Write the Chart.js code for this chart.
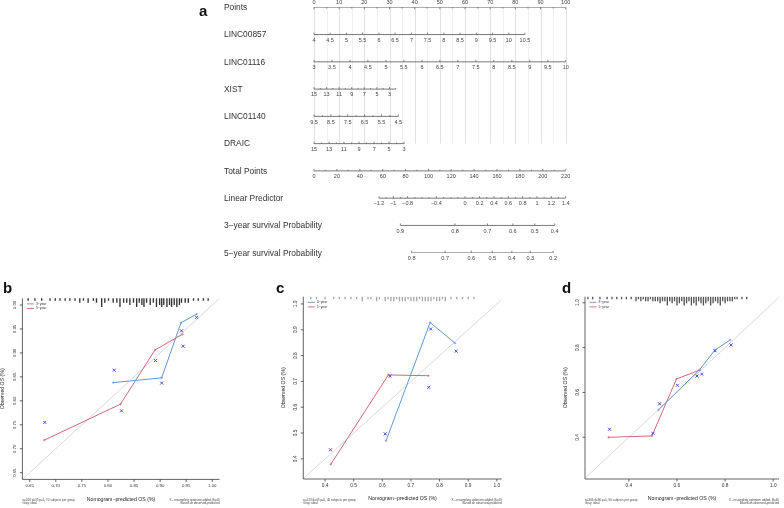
<!DOCTYPE html>
<html>
<head>
<meta charset="utf-8">
<script src="https://cdn.jsdelivr.net/npm/chart.js@4.4.1/dist/chart.umd.min.js"></script>
<style>
  html, body { margin: 0; padding: 0; background: #fff; }
  #page { position: relative; width: 784px; height: 508px; overflow: hidden; background: #fff; }
  #page canvas { position: absolute; }
</style>
</head>
<body>
<div id="page">
  <canvas id="nomo" width="784" height="272" style="left:0;top:0"></canvas>
  <canvas id="calB" width="262" height="228" style="left:0;top:280px"></canvas>
  <canvas id="calC" width="262" height="228" style="left:262px;top:280px"></canvas>
  <canvas id="calD" width="260" height="228" style="left:524px;top:280px"></canvas>
</div>
<script>
// ---- Nomogram: tick labels and where they sit on the 0-100 points scale
const rowNames = ['Points', 'LINC00857', 'LINC01116', 'XIST', 'LINC01140', 'DRAIC',
  'Total Points', 'Linear Predictor', '3−year survival Probability', '5−year survival Probability'];

const pointsLabels = ['0', '10', '20', '30', '40', '50', '60', '70', '80', '90', '100'];
const pointsPos = [0, 10, 20, 30, 40, 50, 60, 70, 80, 90, 100];
const pointsMinor = [5, 15, 25, 35, 45, 55, 65, 75, 85, 95];

const linc00857Labels = ['4', '4.5', '5', '5.5', '6', '6.5', '7', '7.5', '8', '8.5', '9', '9.5', '10', '10.5'];
const linc00857Pos = [0, 6.4, 12.9, 19.3, 25.8, 32.2, 38.7, 45.1, 51.6, 58.0, 64.5, 70.9, 77.4, 83.8];

const linc01116Labels = ['3', '3.5', '4', '4.5', '5', '5.5', '6', '6.5', '7', '7.5', '8', '8.5', '9', '9.5', '10'];
const linc01116Pos = [0, 7.1, 14.3, 21.4, 28.6, 35.7, 42.9, 50, 57.1, 64.3, 71.4, 78.6, 85.7, 92.9, 100];

const xistLabels = ['15', '13', '11', '9', '7', '5', '3'];
const xistPos = [0, 5, 10, 15, 20, 25, 30];
const xistMinor = [2.5, 7.5, 12.5, 17.5, 22.5, 27.5, 32.5];

const linc01140Labels = ['9.5', '8.5', '7.5', '6.5', '5.5', '4.5'];
const linc01140Pos = [0, 6.7, 13.4, 20.1, 26.8, 33.5];
const linc01140Minor = [3.35, 10.05, 16.75, 23.45, 30.15];

const draicLabels = ['15', '13', '11', '9', '7', '5', '3'];
const draicPos = [0, 6.0, 11.9, 17.9, 23.9, 29.8, 35.8];
const draicMinor = [3.0, 8.95, 14.9, 20.9, 26.85, 32.8];

const totalLabels = ['0', '20', '40', '60', '80', '100', '120', '140', '160', '180', '200', '220'];
const totalPos = [0, 9.1, 18.2, 27.3, 36.4, 45.5, 54.5, 63.6, 72.7, 81.8, 90.9, 100];
const totalMinor = [4.5, 13.6, 22.7, 31.8, 40.9, 50, 59.1, 68.2, 77.3, 86.4, 95.5];

const lpLabels = ['−1.2', '−1', '−0.8', '−0.4', '0', '0.2', '0.4', '0.6', '0.8', '1', '1.2', '1.4'];
const lpPos = [25.8, 31.5, 37.2, 48.6, 60.0, 65.8, 71.5, 77.2, 82.9, 88.6, 94.3, 100];
const lpMinor = [28.7, 34.3, 40.1, 42.9, 45.7, 51.5, 54.4, 57.1, 62.9, 68.6, 74.4, 80.0, 85.7, 91.4, 97.1];

const surv3Labels = ['0.9', '0.8', '0.7', '0.6', '0.5', '0.4'];
const surv3Pos = [34.3, 56.0, 68.9, 79.0, 87.7, 95.6];

const surv5Labels = ['0.8', '0.7', '0.6', '0.5', '0.4', '0.3', '0.2'];
const surv5Pos = [38.8, 52.1, 62.5, 70.8, 78.6, 85.9, 95.0];

// ---- Calibration b
const bPred3 = [0.810, 0.903, 0.940, 0.970];
const bObs3 = [0.838, 0.848, 0.963, 0.981];
const bPred5 = [0.678, 0.824, 0.890, 0.943];
const bObs5 = [0.718, 0.793, 0.906, 0.939];
const bCorrX = [0.812, 0.903, 0.941, 0.970, 0.679, 0.826, 0.891, 0.944];
const bCorrY = [0.864, 0.837, 0.946, 0.974, 0.755, 0.779, 0.884, 0.914];
const bTicks = [0.65, 0.70, 0.75, 0.80, 0.85, 0.90, 0.95, 1.00];
const bRugX = [0.647, 0.660, 0.673, 0.689, 0.699, 0.708, 0.718, 0.727, 0.737, 0.746, 0.753, 0.762,
  0.772, 0.778, 0.788, 0.794, 0.801, 0.810, 0.817, 0.823, 0.830, 0.836, 0.842, 0.849, 0.855, 0.860,
  0.865, 0.869, 0.874, 0.881, 0.887, 0.893, 0.899, 0.903, 0.907, 0.913, 0.918, 0.922, 0.927, 0.932,
  0.937, 0.941, 0.948, 0.954, 0.964, 0.973, 0.983, 0.992];
const bRugN = [1, 1, 1, 1, 1, 1, 1, 1, 1, 2, 1, 2, 1, 2, 4, 2, 1, 2, 2, 4, 2, 2, 3, 2, 4, 2,
  3, 4, 2, 3, 2, 4, 3, 4, 3, 4, 3, 4, 3, 4, 3, 2, 2, 2, 1, 1, 1, 1];

// ---- Calibration c
const cPred3 = [0.613, 0.767, 0.854];
const cObs3 = [0.470, 0.928, 0.848];
const cPred5 = [0.420, 0.621, 0.761];
const cObs5 = [0.379, 0.725, 0.722];
const cCorrX = [0.610, 0.769, 0.858, 0.419, 0.627, 0.762];
const cCorrY = [0.497, 0.903, 0.817, 0.435, 0.720, 0.677];
const cTicks = [0.4, 0.5, 0.6, 0.7, 0.8, 0.9, 1.0];
const cRugX = [0.35, 0.37, 0.40, 0.43, 0.45, 0.47, 0.49, 0.51, 0.53, 0.55, 0.56, 0.58, 0.59, 0.61,
  0.62, 0.63, 0.64, 0.65, 0.66, 0.67, 0.68, 0.69, 0.70, 0.71, 0.72, 0.73, 0.74, 0.75, 0.76, 0.77,
  0.78, 0.79, 0.80, 0.81, 0.82, 0.84, 0.86, 0.88, 0.90, 0.92];
const cRugN = [1, 1, 1, 1, 1, 1, 1, 1, 2, 1, 1, 2, 1, 2, 1, 2, 2, 1, 2, 2, 2, 1, 2, 2, 2, 1,
  2, 2, 2, 2, 1, 2, 2, 1, 2, 1, 1, 1, 1, 1];

// ---- Calibration d
const dPred3 = [0.523, 0.693, 0.758, 0.821];
const dObs3 = [0.522, 0.700, 0.789, 0.834];
const dPred5 = [0.316, 0.496, 0.598, 0.695];
const dObs5 = [0.400, 0.406, 0.660, 0.700];
const dCorrX = [0.528, 0.683, 0.758, 0.825, 0.320, 0.500, 0.602, 0.703];
const dCorrY = [0.549, 0.673, 0.786, 0.812, 0.436, 0.418, 0.632, 0.682];
const dTicks = [0.4, 0.6, 0.8, 1.0];
const dRugX = [0.23, 0.25, 0.28, 0.31, 0.33, 0.35, 0.37, 0.39, 0.41, 0.43, 0.44, 0.45, 0.46, 0.47,
  0.48, 0.49, 0.50, 0.51, 0.52, 0.53, 0.54, 0.55, 0.56, 0.57, 0.58, 0.59, 0.60, 0.61, 0.62, 0.63,
  0.64, 0.65, 0.66, 0.67, 0.68, 0.69, 0.70, 0.71, 0.72, 0.73, 0.74, 0.75, 0.76, 0.77, 0.78, 0.79,
  0.80, 0.81, 0.82, 0.83, 0.84, 0.85, 0.87, 0.89];
const dRugN = [1, 1, 1, 1, 1, 1, 1, 1, 1, 2, 1, 2, 1, 2, 2, 1, 2, 2, 2, 3, 2, 2, 4, 2, 3, 2,
  4, 3, 2, 4, 3, 2, 4, 3, 4, 2, 3, 4, 3, 2, 4, 3, 2, 3, 4, 2, 3, 2, 2, 2, 1, 1, 1, 1];

const FONT = "'Liberation Sans', Arial, Helvetica, sans-serif";
const BLUE = '#6198cf';
const RED = '#d2677a';
const XCOL = '#4747e3';

const rows = [
  { lab: pointsLabels, pos: pointsPos, minor: pointsMinor, above: true },
  { lab: linc00857Labels, pos: linc00857Pos, minor: [] },
  { lab: linc01116Labels, pos: linc01116Pos, minor: [] },
  { lab: xistLabels, pos: xistPos, minor: xistMinor },
  { lab: linc01140Labels, pos: linc01140Pos, minor: linc01140Minor },
  { lab: draicLabels, pos: draicPos, minor: draicMinor },
  { lab: totalLabels, pos: totalPos, minor: totalMinor },
  { lab: lpLabels, pos: lpPos, minor: lpMinor },
  { lab: surv3Labels, pos: surv3Pos, minor: [] },
  { lab: surv5Labels, pos: surv5Pos, minor: [] }
];

// Линии, подписи и сетка номограммы
const nomoPlugin = {
  id: 'nomoAxes',
  beforeDatasetsDraw(chart) {
    const ctx = chart.ctx, xs = chart.scales.x, ys = chart.scales.y;
    ctx.save();
    ctx.lineWidth = 0.7;
    for (let p = 0; p <= 100; p += 5) {
      const px = Math.round(xs.getPixelForValue(p)) + 0.5;
      ctx.strokeStyle = p % 10 === 0 ? '#d6d6d6' : '#e9e9e9';
      ctx.beginPath();
      ctx.moveTo(px, ys.getPixelForValue(0));
      ctx.lineTo(px, ys.getPixelForValue(5));
      ctx.stroke();
    }
    ctx.restore();
  },
  afterDatasetsDraw(chart) {
    const ctx = chart.ctx, xs = chart.scales.x, ys = chart.scales.y;
    ctx.save();
    ctx.strokeStyle = '#555';
    ctx.lineWidth = 0.7;
    ctx.textAlign = 'center';
    ctx.textBaseline = 'middle';
    rows.forEach((r, i) => {
      const py = ys.getPixelForValue(i);
      const dir = r.above ? 1 : -1;
      r.pos.forEach(p => {
        const px = xs.getPixelForValue(p);
        ctx.beginPath(); ctx.moveTo(px, py); ctx.lineTo(px, py + dir * 2); ctx.stroke();
      });
      r.minor.forEach(p => {
        const px = xs.getPixelForValue(p);
        ctx.beginPath(); ctx.moveTo(px, py); ctx.lineTo(px, py + dir * 1.2); ctx.stroke();
      });
      ctx.fillStyle = '#444';
      ctx.font = '5.5px ' + FONT;
      r.lab.forEach((t, k) => {
        ctx.fillText(t, xs.getPixelForValue(r.pos[k]), r.above ? py - 4.6 : py + 5.8);
      });
      ctx.fillStyle = '#333';
      ctx.font = '8.4px ' + FONT;
      ctx.textAlign = 'left';
      ctx.fillText(rowNames[i], 224, py + 0.5);
      ctx.textAlign = 'center';
    });
    ctx.fillStyle = '#111';
    ctx.font = 'bold 15px ' + FONT;
    ctx.textAlign = 'left';
    ctx.textBaseline = 'alphabetic';
    ctx.fillText('a', 199, 16);
    ctx.restore();
  }
};

new Chart(document.getElementById('nomo'), {
  type: 'scatter',
  data: {
    datasets: rows.map((r, i) => ({
      data: [{ x: Math.min(...r.pos, ...r.minor), y: i }, { x: Math.max(...r.pos, ...r.minor), y: i }],
      showLine: true,
      borderColor: '#555',
      borderWidth: 0.8,
      pointRadius: 0
    }))
  },
  options: {
    responsive: false,
    animation: false,
    events: [],
    layout: { padding: { left: 314, right: 218.3, top: 7.3, bottom: 19.3 } },
    plugins: { legend: { display: false }, tooltip: { enabled: false } },
    scales: {
      x: { type: 'linear', min: 0, max: 100, display: false },
      y: { type: 'linear', min: 0, max: 9, reverse: true, display: false }
    }
  },
  plugins: [nomoPlugin]
});

// Оси калибровочных графиков
const calibPlugin = {
  id: 'calibAxes',
  afterDraw(chart, args, o) {
    const ctx = chart.ctx, a = chart.chartArea, xs = chart.scales.x, ys = chart.scales.y;
    ctx.save();
    ctx.strokeStyle = '#3c3c3c';
    ctx.lineWidth = 0.8;
    ctx.beginPath();
    ctx.moveTo(a.left, a.top); ctx.lineTo(a.left, a.bottom); ctx.lineTo(a.right, a.bottom);
    ctx.stroke();
    ctx.fillStyle = '#333';
    ctx.font = o.tickFont + 'px ' + FONT;
    ctx.textAlign = 'center';
    ctx.textBaseline = 'middle';
    o.ticks.forEach(v => {
      const px = xs.getPixelForValue(v);
      ctx.beginPath(); ctx.moveTo(px, a.bottom); ctx.lineTo(px, a.bottom + 2.5); ctx.stroke();
      ctx.fillText(v.toFixed(o.digits), px, a.bottom + 6.5);
      const py = ys.getPixelForValue(v);
      ctx.beginPath(); ctx.moveTo(a.left, py); ctx.lineTo(a.left - 2.5, py); ctx.stroke();
      ctx.save();
      ctx.translate(a.left - 7.5, py);
      ctx.rotate(-Math.PI / 2);
      ctx.fillText(v.toFixed(o.digits), 0, 0);
      ctx.restore();
    });
    ctx.fillStyle = '#222';
    ctx.font = '5.2px ' + FONT;
    ctx.fillText('Nomogram−predicted OS (%)', (a.left + a.right) / 2, a.bottom + 19.8);
    ctx.save();
    ctx.translate(a.left - 19.8, (a.top + a.bottom) / 2);
    ctx.rotate(-Math.PI / 2);
    ctx.fillText('Observed OS (%)', 0, 0);
    ctx.restore();
    // notes
    ctx.font = '3px ' + FONT;
    ctx.fillStyle = '#444';
    ctx.textAlign = 'left';
    ctx.fillText(o.noteL, a.left, a.bottom + 20.8);
    ctx.fillText('Gray: ideal', a.left, a.bottom + 24.2);
    ctx.textAlign = 'right';
    ctx.fillText('X - resampling optimism added, B=40', a.right, a.bottom + 20.8);
    ctx.fillText('Based on observed-predicted', a.right, a.bottom + 24.2);
    // legend
    ctx.lineWidth = 0.9;
    [['3−year', BLUE, 5.6], ['5−year', RED, 10.2]].forEach(([t, c, dy]) => {
      ctx.strokeStyle = c;
      ctx.beginPath();
      ctx.moveTo(a.left + 4.5, a.top + dy); ctx.lineTo(a.left + 11.5, a.top + dy);
      ctx.stroke();
      ctx.fillStyle = '#333';
      ctx.font = '3.4px ' + FONT;
      ctx.textAlign = 'left';
      ctx.fillText(t, a.left + 13.5, a.top + dy);
    });
    // panel letter
    ctx.fillStyle = '#111';
    ctx.font = 'bold 15px ' + FONT;
    ctx.textBaseline = 'alphabetic';
    ctx.fillText(o.letter, o.letterX, 13);
    ctx.restore();
  }
};

function xy(xs, ys) {
  return xs.map((x, i) => ({ x: x, y: ys[i] }));
}

function makeCalib(id, cfg) {
  const unit = (cfg.yMax - cfg.yMin) * 0.0115;
  new Chart(document.getElementById(id), {
    type: 'scatter',
    data: {
      datasets: [
        {
          data: xy(cfg.corrX, cfg.corrY),
          pointStyle: 'crossRot', pointRadius: 2.1,
          borderColor: XCOL, borderWidth: 1, backgroundColor: XCOL
        },
        {
          data: xy(cfg.pred3, cfg.obs3), showLine: true,
          borderColor: BLUE, borderWidth: 1, pointStyle: 'cross',
          pointRadius: 1.2, pointBorderColor: BLUE, pointBorderWidth: 0.7
        },
        {
          data: xy(cfg.pred5, cfg.obs5), showLine: true,
          borderColor: RED, borderWidth: 1, pointStyle: 'cross',
          pointRadius: 1.2, pointBorderColor: RED, pointBorderWidth: 0.7
        },
        {
          data: [{ x: cfg.xMin, y: cfg.xMin }, { x: cfg.xMax, y: cfg.xMax }], showLine: true,
          borderColor: '#dadada', borderWidth: 1, pointRadius: 0
        },
        {
          type: 'bar',
          data: cfg.rugX.map((x, i) => ({ x: x, y: [cfg.yMax - cfg.rugN[i] * unit, cfg.yMax] })),
          backgroundColor: cfg.rugColor,
          barThickness: 0.7,
          borderWidth: 0
        }
      ]
    },
    options: {
      responsive: false,
      animation: false,
      events: [],
      layout: { padding: cfg.pad },
      plugins: {
        legend: { display: false },
        tooltip: { enabled: false },
        calibAxes: { ticks: cfg.ticks, digits: cfg.digits, tickFont: cfg.tickFont,
          noteL: cfg.noteL, letter: cfg.letter, letterX: cfg.letterX }
      },
      scales: {
        x: { type: 'linear', min: cfg.xMin, max: cfg.xMax, offset: false, display: false },
        y: { type: 'linear', min: cfg.yMin, max: cfg.yMax, display: false }
      }
    },
    plugins: [calibPlugin]
  });
}

makeCalib('calB', {
  pred3: bPred3, obs3: bObs3, pred5: bPred5, obs5: bObs5, corrX: bCorrX, corrY: bCorrY,
  rugX: bRugX, rugN: bRugN, rugColor: '#333', ticks: bTicks, digits: 2, tickFont: 4.3,
  xMin: 0.636, xMax: 1.014, yMin: 0.636, yMax: 1.014,
  pad: { left: 22.4, right: 42.4, top: 18.3, bottom: 28.6 },
  noteL: 'n=208 d=35 p=5, 70 subjects per group', letter: 'b', letterX: 3
});

makeCalib('calC', {
  pred3: cPred3, obs3: cObs3, pred5: cPred5, obs5: cObs5, corrX: cCorrX, corrY: cCorrY,
  rugX: cRugX, rugN: cRugN, rugColor: '#a8a8a8', ticks: cTicks, digits: 1, tickFont: 4.8,
  xMin: 0.324, xMax: 1.017, yMin: 0.322, yMax: 1.028,
  pad: { left: 41.3, right: 22.3, top: 16.7, bottom: 29 },
  noteL: 'n=123 d=43 p=5, 40 subjects per group', letter: 'c', letterX: 14
});

makeCalib('calD', {
  pred3: dPred3, obs3: dObs3, pred5: dPred5, obs5: dObs5, corrX: dCorrX, corrY: dCorrY,
  rugX: dRugX, rugN: dRugN, rugColor: '#555', ticks: dTicks, digits: 1, tickFont: 4.8,
  xMin: 0.218, xMax: 1.024, yMin: 0.214, yMax: 1.027,
  pad: { left: 61, right: 0.7, top: 16.7, bottom: 29 },
  noteL: 'n=346 d=96 p=5, 90 subjects per group', letter: 'd', letterX: 38
});
</script>
</body>
</html>
